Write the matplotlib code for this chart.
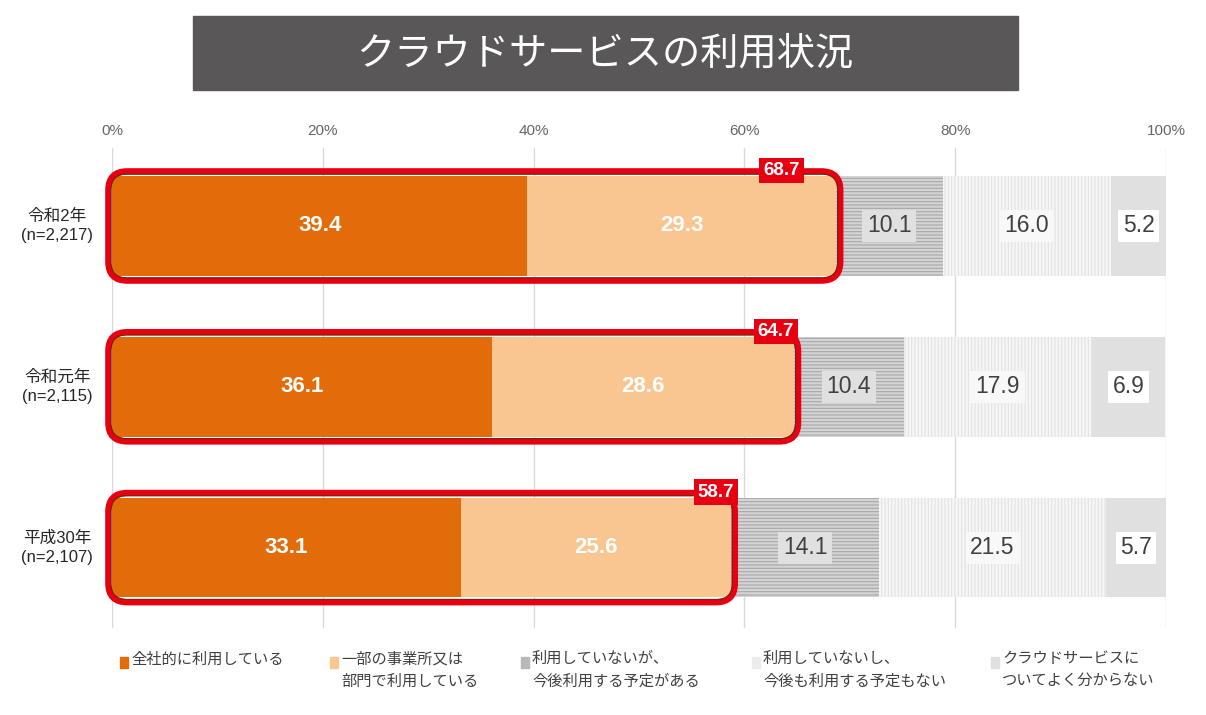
import matplotlib.pyplot as plt
from matplotlib.patches import FancyBboxPatch, Rectangle

plt.rcParams['font.family'] = ['Liberation Sans', 'Noto Sans CJK JP', 'DejaVu Sans']
plt.rcParams['hatch.linewidth'] = 0.8

# data
years = ["令和2年\n(n=2,217)", "令和元年\n(n=2,115)", "平成30年\n(n=2,107)"]
all_company = [39.4, 36.1, 33.1]
some_dept = [29.3, 28.6, 25.6]
plan_to_use = [10.1, 10.4, 14.1]
no_plan = [16.0, 17.9, 21.5]
dont_know = [5.2, 6.9, 5.7]
totals = [68.7, 64.7, 58.7]
ticks = [0, 20, 40, 60, 80, 100]
tick_labels = ["0%", "20%", "40%", "60%", "80%", "100%"]
legend_labels = ["全社的に利用している", "一部の事業所又は\n部門で利用している",
                 "利用していないが、\n今後利用する予定がある",
                 "利用していないし、\n今後も利用する予定もない",
                 "クラウドサービスに\nついてよく分からない"]

series = [all_company, some_dept, plan_to_use, no_plan, dont_know]
colors = ["#e36c0a", "#f9c591", "#d4d4d4", "#f6f6f6", "#e0e0e0"]
hatches = [None, None, "-----", "|||||", None]
hatch_cols = ["none", "none", "#a8a8a8", "#e2e2e2", "none"]
label_bg = [None, None, "#e0e0e0", "#f8f8f8", "white"]

fig = plt.figure(figsize=(12.06, 7.15), dpi=100)
W, H = 1206, 715

# title box
fig.patches.append(Rectangle((193 / W, 1 - 90 / H), 825 / W, 74 / H,
                             transform=fig.transFigure, color="#595757"))
fig.text(605 / W, 1 - 54 / H, "クラウドサービスの利用状況", color="white",
         fontsize=27.5, ha="center", va="center", family=["Noto Sans CJK JP"])

ax = fig.add_axes([112 / W, 87 / H, 1054 / W, 480 / H])
ax.set_xlim(0, 100)
ax.set_ylim(2.5, -0.485)
ax.set_xticks(ticks)
ax.set_xticklabels(tick_labels)
ax.xaxis.tick_top()
ax.tick_params(axis="x", length=0, labelsize=11, labelcolor="#666666", pad=7)
ax.set_yticks([])
for s in ax.spines.values():
    s.set_visible(False)
ax.grid(axis="x", color="#d9d9d9", lw=1)
ax.set_axisbelow(True)

ypos = list(range(len(years)))
left = [0] * len(years)
for k, vals in enumerate(series):
    bars = ax.barh(ypos, vals, left=left, height=0.62, color=colors[k],
                   hatch=hatches[k], edgecolor=hatch_cols[k], lw=0, zorder=2)
    for i, v in enumerate(vals):
        cx = left[i] + v / 2
        if k < 2:
            ax.text(cx, i, f"{v:.1f}", color="white", fontsize=16, fontweight="bold",
                    ha="center", va="center", zorder=5)
        else:
            ax.text(cx, i, f"{v:.1f}", color="#404040", fontsize=16.5,
                    ha="center", va="center", zorder=5,
                    bbox=dict(boxstyle="square,pad=0.2", fc=label_bg[k], ec="none"))
    left = [a + b for a, b in zip(left, vals)]

# red rounded frames around the "using" share
aspect = (2.985 / 480) / (100 / 1054)
shift = [5.2, 1.7, 1.4]
for i, t in enumerate(totals):
    frame = FancyBboxPatch((-0.35, i - 0.34), t + 0.75, 0.68,
                           boxstyle="round,pad=0,rounding_size=1.8",
                           mutation_aspect=aspect, fc="none", ec="#e60012",
                           lw=4.5, zorder=4, clip_on=False)
    ax.add_patch(frame)
    inner = FancyBboxPatch((-0.1, i - 0.322), t + 0.25, 0.644,
                           boxstyle="round,pad=0,rounding_size=1.5",
                           mutation_aspect=aspect, fc="none", ec="#6b2a10",
                           lw=0.8, zorder=4, clip_on=False)
    ax.add_patch(inner)
    ax.text(t - shift[i], i - 0.345, f"{t:.1f}", color="white", fontsize=13.5,
            fontweight="bold", ha="center", va="center", zorder=6,
            bbox=dict(boxstyle="square,pad=0.22", fc="#e60012", ec="none"))

# row labels
for i, lab in enumerate(years):
    ax.text(-5.2, i, lab, ha="center", va="center", fontsize=12,
            color="#262626", linespacing=1.3)

# legend
leg_x = [120, 330, 521, 752, 991]
leg_col = ["#e36c0a", "#f9c591", "#b8b8b8", "#ececec", "#e0e0e0"]
for x, lab, c in zip(leg_x, legend_labels, leg_col):
    fig.patches.append(Rectangle((x / W, 1 - 668 / H), 8 / W, 11 / H,
                                 transform=fig.transFigure, color=c))
    fig.text((x + 11) / W, 1 - 652 / H, lab, ha="left", va="top", fontsize=11,
             color="#404040", linespacing=1.7)

fig.savefig("out.png", dpi=100)
